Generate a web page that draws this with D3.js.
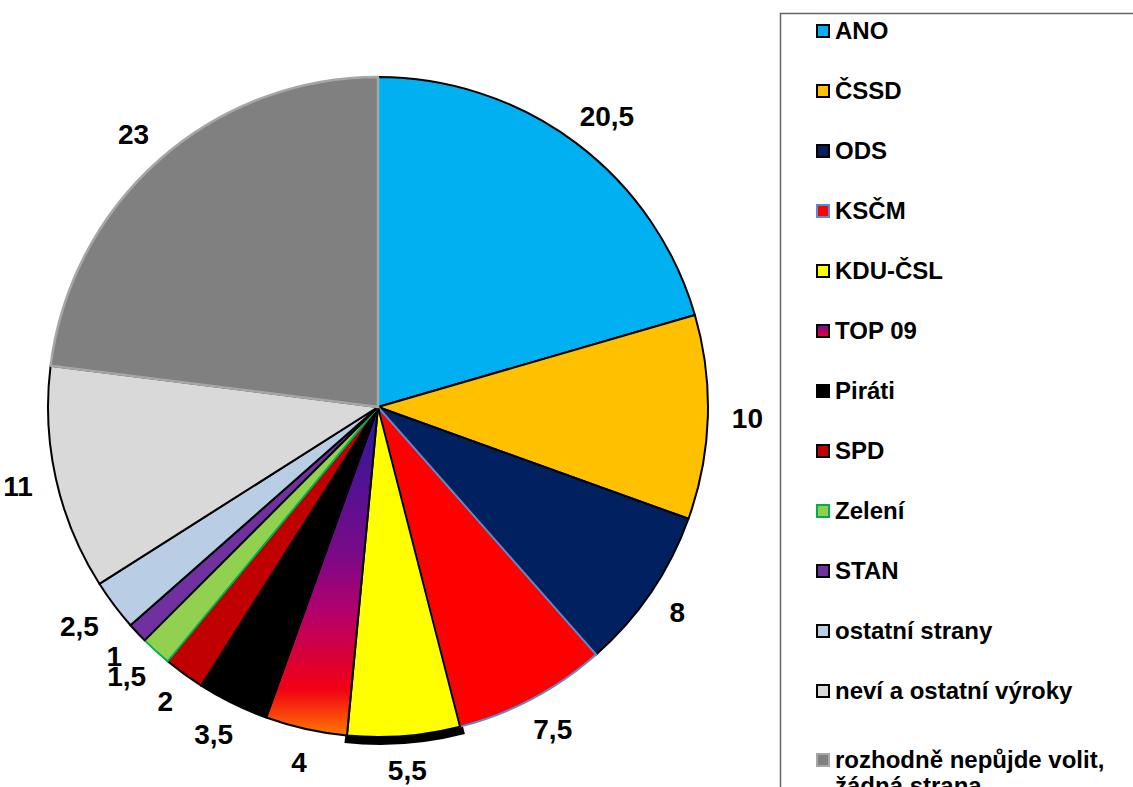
<!DOCTYPE html>
<html>
<head>
<meta charset="utf-8">
<script src="https://cdn.jsdelivr.net/npm/d3@7"></script>
<style>
  html, body { margin: 0; padding: 0; background: #fff; }
  svg { display: block; }
  text { font-family: "Liberation Sans", Arial, sans-serif; font-weight: bold; fill: #000; }
</style>
</head>
<body>
<svg id="chart" width="1133" height="787"></svg>
<script>
// ---- data ----
const categories = ["ANO", "ČSSD", "ODS", "KSČM", "KDU-ČSL", "TOP 09", "Piráti", "SPD", "Zelení", "STAN",
  "ostatní strany", "neví a ostatní výroky", "rozhodně nepůjde volit, žádná strana"];
const values = [20.5, 10, 8, 7.5, 5.5, 4, 3.5, 2, 1.5, 1, 2.5, 11, 23];
const valueLabels = ["20,5", "10", "8", "7,5", "5,5", "4", "3,5", "2", "1,5", "1", "2,5", "11", "23"];
const fills = ["#00B0F0", "#FFC000", "#002060", "#FF0000", "#FFFF00", "url(#topGrad)", "#000000",
  "#C00000", "#92D050", "#7030A0", "#B9CDE5", "#D9D9D9", "#808080"];
const strokes = ["#000", "#000", "#000", "#5B8CD0", "#000", "#000", "#000", "#000", "#00B050", "#000",
  "#000", "#000", "#A6A6A6"];

// ---- layout ----
const svg = d3.select("#chart");
const cx = 378, cy = 407, R = 330;

const defs = svg.append("defs");
const grad = defs.append("linearGradient").attr("id", "topGrad")
  .attr("x1", 0).attr("y1", 0).attr("x2", 0).attr("y2", 1);
[[0, "#2A1A9E"], [0.45, "#7A0A88"], [0.62, "#B2006C"], [0.86, "#F20014"], [1, "#FF7A00"]]
  .forEach(([o, c]) => grad.append("stop").attr("offset", o).attr("stop-color", c));
const lgrad = defs.append("linearGradient").attr("id", "topGradLeg")
  .attr("x1", 0).attr("y1", 0).attr("x2", 0).attr("y2", 1);
[[0, "#5A1A9E"], [0.5, "#B0006C"], [1, "#FF0010"]]
  .forEach(([o, c]) => lgrad.append("stop").attr("offset", o).attr("stop-color", c));

const data = categories.map((c, i) => ({ cat: c, value: values[i], label: valueLabels[i], i }));
const pie = d3.pie().value(d => d.value).sort(null);
const arcs = pie(data);
const arc = d3.arc().innerRadius(0).outerRadius(R);

const g = svg.append("g").attr("transform", `translate(${cx},${cy})`);

// thick dark rim under the KDU-ČSL slice
const kdu = arcs[4];
g.append("path")
  .attr("d", d3.arc().innerRadius(R - 6).outerRadius(R + 5)({ startAngle: kdu.startAngle - 0.005, endAngle: kdu.endAngle + 0.012 }))
  .attr("transform", "translate(2,3)")
  .attr("fill", "#000");

g.selectAll("path.slice")
  .data(arcs)
  .join("path")
  .attr("class", "slice")
  .attr("d", arc)
  .attr("fill", d => fills[d.data.i])
  .attr("stroke", d => strokes[d.data.i])
  .attr("stroke-width", d => d.data.i === 12 ? 2.5 : 2)
  .attr("stroke-linejoin", "round");

// value labels, placed outside end
const pad = 24;
arcs.forEach(a => {
  const t = g.append("text").attr("font-size", 28).text(a.data.label);
  const bb = t.node().getBBox();
  const ang = (a.startAngle + a.endAngle) / 2;
  const s = Math.sin(ang), c = -Math.cos(ang);
  const px = (R + pad) * s, py = (R + pad) * c;
  const w = bb.width, h = 20;
  const ccx = px + (w / 2) * s;
  const ccy = py + (h / 2) * c;
  t.attr("x", ccx).attr("y", ccy + 10).attr("text-anchor", "middle");
});

// legend
svg.append("rect")
  .attr("x", 780.5).attr("y", 13.5).attr("width", 400).attr("height", 800)
  .attr("fill", "none").attr("stroke", "#666").attr("stroke-width", 1.5);

const legY = d3.scalePoint().domain(d3.range(categories.length)).range([31, 751]);
const leg = svg.append("g");
categories.forEach((c, i) => {
  const yc = legY(i) + (i === categories.length - 1 ? 9 : 0);
  leg.append("rect")
    .attr("x", 817).attr("y", yc - 6).attr("width", 12).attr("height", 12)
    .attr("fill", i === 5 ? "url(#topGradLeg)" : fills[i])
    .attr("stroke", i === 12 ? "#A6A6A6" : strokes[i]).attr("stroke-width", 2);
  const parts = c.includes(", ") ? [c.split(", ")[0] + ",", c.split(", ")[1]] : [c];
  const t = leg.append("text").attr("font-size", 24).attr("x", 835).attr("y", yc + 8);
  parts.forEach((p, k) => {
    t.append("tspan").attr("x", 835).attr("dy", k === 0 ? 0 : 26).text(p);
  });
});
</script>
</body>
</html>
